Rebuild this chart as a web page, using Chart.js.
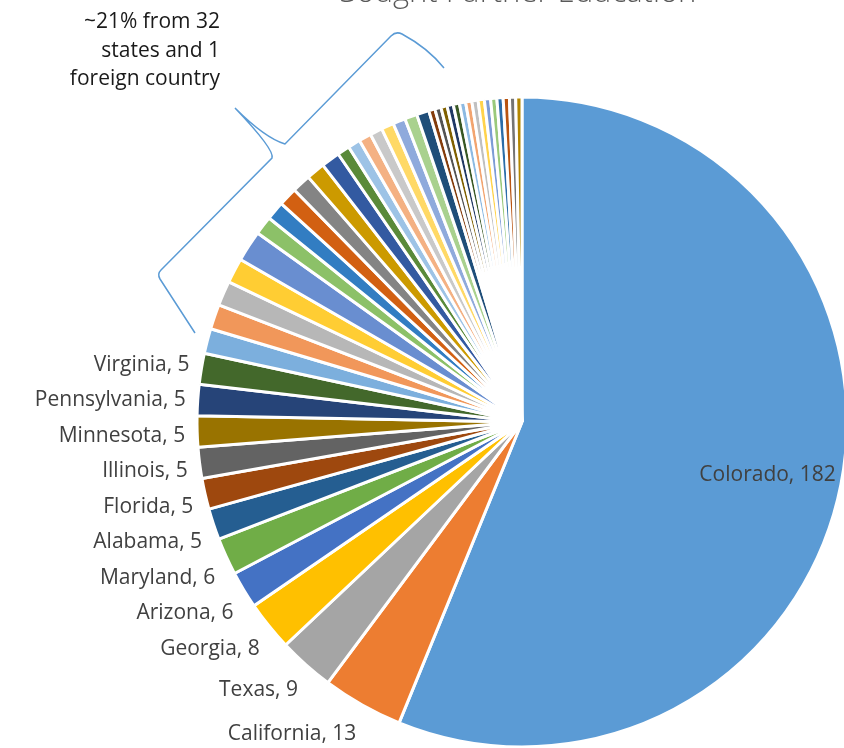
<!DOCTYPE html>
<html>
<head>
<meta charset="utf-8">
<title>Sought Further Education</title>
<script src="https://cdn.jsdelivr.net/npm/chart.js@4.4.1/dist/chart.umd.min.js"></script>
<style>
  html, body { margin: 0; padding: 0; background: #fff; overflow: hidden; }
  #wrap { position: absolute; left: 0; top: 0; width: 880px; height: 780px; }
</style>
</head>
<body>
<div id="wrap"><canvas id="chart" width="880" height="780"></canvas></div>
<script>
// Values
const namedStates = ['Colorado', 'California', 'Texas', 'Georgia', 'Arizona', 'Maryland',
    'Alabama', 'Florida', 'Illinois', 'Minnesota', 'Pennsylvania', 'Virginia'];
const namedCounts = [182, 13, 9, 8, 6, 6, 5, 5, 5, 5, 5, 5];

// The small unlabeled slices (names are not shown on the chart)
const otherPlaces = ['Other 1', 'Other 2', 'Other 3', 'Other 4', 'Other 5', 'Other 6', 'Other 7',
    'Other 8', 'Other 9', 'Other 10', 'Other 11', 'Other 12', 'Other 13', 'Other 14', 'Other 15',
    'Other 16', 'Other 17', 'Other 18', 'Other 19', 'Other 20', 'Other 21', 'Other 22', 'Other 23',
    'Other 24', 'Other 25', 'Other 26', 'Other 27', 'Other 28', 'Other 29', 'Other 30', 'Other 31',
    'Other 32', 'Other 33', 'Foreign country'];
const otherCounts = [4, 4, 4, 4, 5, 3, 3, 3, 3, 3, 3, 2, 2, 2, 2, 2, 2, 2, 2,
    1, 1, 1, 1, 1, 1, 1, 1, 1, 1, 1, 1, 1, 1, 1];

const titleText = 'Sought Further Education';
const noteLines = ['~21% from 32', 'states and 1', 'foreign country'];

const allPlaces = namedStates.concat(otherPlaces);
const allCounts = namedCounts.concat(otherCounts);

// Office theme accents and the shade steps Excel walks through for many slices
const themeAccents = ['#5B9BD5', '#ED7D31', '#A5A5A5', '#FFC000', '#4472C4', '#70AD47'];
const shadeSteps = [[1, 0], [0.6, 0], [0.8, 0.2], [0.8, 0], [0.6, 0.4], [0.5, 0], [0.7, 0.3], [0.7, 0], [0.5, 0.5]];

const shade = (hex, lumMod, lumOff) => {
    let r = parseInt(hex.slice(1, 3), 16) / 255;
    let g = parseInt(hex.slice(3, 5), 16) / 255;
    let b = parseInt(hex.slice(5, 7), 16) / 255;
    const max = Math.max(r, g, b), min = Math.min(r, g, b);
    let h = 0, s = 0, l = (max + min) / 2;
    const d = max - min;
    if (d) {
        s = d / (1 - Math.abs(2 * l - 1));
        if (max === r) h = ((g - b) / d) % 6;
        else if (max === g) h = (b - r) / d + 2;
        else h = (r - g) / d + 4;
        h *= 60;
        if (h < 0) h += 360;
    }
    l = Math.min(1, l * lumMod + lumOff);
    const c = (1 - Math.abs(2 * l - 1)) * s;
    const x = c * (1 - Math.abs((h / 60) % 2 - 1));
    const m = l - c / 2;
    [r, g, b] = h < 60 ? [c, x, 0] : h < 120 ? [x, c, 0] : h < 180 ? [0, c, x]
        : h < 240 ? [0, x, c] : h < 300 ? [x, 0, c] : [c, 0, x];
    return `rgb(${Math.round((r + m) * 255)}, ${Math.round((g + m) * 255)}, ${Math.round((b + m) * 255)})`;
};

const sliceColors = allCounts.map((_, i) => {
    const [mod, off] = shadeSteps[Math.floor(i / 6) % shadeSteps.length];
    return shade(themeAccents[i % 6], mod, off);
});

const labelFont = '21px "Open Sans", sans-serif';
const capHalf = 7.5; // half the cap height, so text sits centred on its anchor

// Data labels: Colorado inside, the other named states outside on the left
const sliceLabels = {
    id: 'sliceLabels',
    afterDatasetsDraw(chart) {
        const ctx = chart.ctx;
        const arcs = chart.getDatasetMeta(0).data;
        const outside = [];
        ctx.save();
        ctx.font = labelFont;
        ctx.fillStyle = '#404040';
        ctx.textBaseline = 'alphabetic';
        arcs.forEach((arc, i) => {
            if (i >= namedStates.length) return;
            const { x, y, startAngle, endAngle, outerRadius } =
                arc.getProps(['x', 'y', 'startAngle', 'endAngle', 'outerRadius'], true);
            const mid = (startAngle + endAngle) / 2;
            const text = `${allPlaces[i]}, ${allCounts[i]}`;
            if (i === 0) {
                ctx.textAlign = 'center';
                ctx.fillText(text, x + Math.cos(mid) * outerRadius * 0.77,
                    y + Math.sin(mid) * outerRadius * 0.77 + capHalf + 3);
                return;
            }
            const r = outerRadius + 12;
            outside.push({ text, x: x + Math.cos(mid) * r, y: y + Math.sin(mid) * (r + 20) });
        });
        // push labels down so they never overlap
        outside.sort((a, b) => a.y - b.y);
        for (let i = 1; i < outside.length; i++) {
            outside[i].y = Math.max(outside[i].y, outside[i - 1].y + 35.5);
        }
        ctx.textAlign = 'right';
        outside.forEach(l => ctx.fillText(l.text, l.x, l.y + capHalf));
        ctx.restore();
    }
};

// Title (cut off by the top edge), side note and the brace
const decorations = {
    id: 'decorations',
    afterDraw(chart) {
        const ctx = chart.ctx;
        ctx.save();
        ctx.fillStyle = '#595959';
        ctx.font = '300 31px "Open Sans", sans-serif';
        ctx.textAlign = 'center';
        ctx.textBaseline = 'alphabetic';
        ctx.fillText(titleText, 518, 2);

        ctx.fillStyle = '#1a1a1a';
        ctx.font = labelFont;
        ctx.textAlign = 'right';
        noteLines.forEach((line, i) => ctx.fillText(line, 220, 28 + i * 28.5));

        ctx.strokeStyle = '#5B9BD5';
        ctx.lineWidth = 1.5;
        ctx.beginPath();
        ctx.moveTo(195, 333);
        ctx.lineTo(160, 279);
        ctx.quadraticCurveTo(157, 274, 161, 270);
        ctx.lineTo(272, 158);
        ctx.quadraticCurveTo(275, 150, 235, 108);
        ctx.quadraticCurveTo(265, 138, 285, 144);
        ctx.lineTo(391, 36);
        ctx.quadraticCurveTo(396, 31, 402, 34);
        ctx.quadraticCurveTo(428, 48, 444, 68);
        ctx.stroke();
        ctx.restore();
    }
};

new Chart(document.getElementById('chart'), {
    type: 'pie',
    data: {
        labels: allPlaces,
        datasets: [{
            data: allCounts,
            backgroundColor: sliceColors,
            borderColor: '#ffffff',
            borderWidth: 3
        }]
    },
    options: {
        responsive: false,
        animation: false,
        devicePixelRatio: 1,
        events: [],
        radius: 325,
        layout: { padding: { left: 197, top: 97, right: 33, bottom: 33 } },
        plugins: {
            legend: { display: false },
            tooltip: { enabled: false },
            title: { display: false }
        }
    },
    plugins: [sliceLabels, decorations]
});
</script>
</body>
</html>
